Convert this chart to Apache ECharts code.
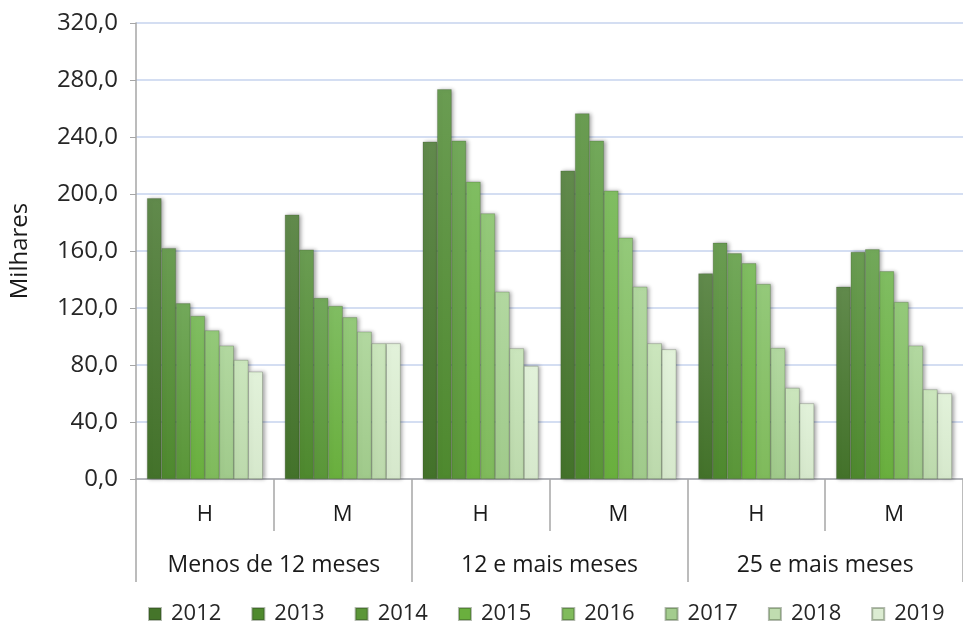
<!DOCTYPE html>
<html>
<head>
<meta charset="utf-8">
<script src="https://cdn.jsdelivr.net/npm/echarts@6/dist/echarts.min.js"></script>
<style>
html,body{margin:0;padding:0;background:#fff;}
#c{width:963px;height:623px;}
</style>
</head>
<body>
<div id="c"></div>
<script>
const subCategories = ['H', 'M', 'H', 'M', 'H', 'M'];
const groupCategories = ['Menos de 12 meses', '12 e mais meses', '25 e mais meses'];
const years = ['2012', '2013', '2014', '2015', '2016', '2017', '2018', '2019'];
const v2012 = [197.0, 185.5, 236.7, 216.4, 144.3, 134.9];
const v2013 = [162.0, 161.0, 273.5, 256.6, 165.8, 159.3];
const v2014 = [123.3, 127.0, 237.4, 237.4, 158.4, 161.2];
const v2015 = [114.4, 121.4, 208.6, 202.3, 151.4, 145.8];
const v2016 = [104.3, 113.5, 186.4, 169.3, 136.8, 124.2];
const v2017 = [93.6, 103.4, 131.4, 134.9, 91.9, 93.6];
const v2018 = [83.5, 95.2, 91.7, 95.2, 63.9, 62.9];
const v2019 = [75.3, 95.2, 79.3, 91.0, 53.1, 60.1];
const yTicks = [0, 40, 80, 120, 160, 200, 240, 280, 320];

const seriesValues = [v2012, v2013, v2014, v2015, v2016, v2017, v2018, v2019];
const topColors = ['#618a4c', '#6a9c52', '#72a85a', '#80bd62', '#94c97a', '#b2d8a0', '#cbe6bd', '#e2f2da'];
const bottomColors = ['#43722a', '#4e892e', '#5a9638', '#69af3d', '#7fba5b', '#a0ca8b', '#bcd9ac', '#d6e8cc'];
const legendColors = ['#45752a', '#4f8a2e', '#5b9638', '#6aaf3e', '#80bb5c', '#a3cc8e', '#c0dcb0', '#dcecd2'];

const font = 'Open Sans';
const chart = echarts.init(document.getElementById('c'));

const series = years.map((y, i) => ({
  name: y,
  type: 'bar',
  xAxisIndex: 0,
  data: seriesValues[i],
  barGap: '0%',
  barCategoryGap: '16%',
  itemStyle: {
    color: new echarts.graphic.LinearGradient(0, 0, 0, 1, [
      {offset: 0, color: topColors[i]},
      {offset: 1, color: bottomColors[i]}
    ]),
    borderColor: 'rgba(40,60,30,0.35)',
    borderWidth: 0.6,
    shadowColor: 'rgba(0,0,0,0.35)',
    shadowBlur: 4,
    shadowOffsetX: 2,
    shadowOffsetY: 0
  }
}));

chart.setOption({
  animation: false,
  backgroundColor: '#ffffff',
  grid: {left: 136, top: 23, width: 832, height: 456, containLabel: false},
  legend: {
    data: years.map((y, i) => ({name: y, itemStyle: {color: legendColors[i]}})),
    left: 148,
    top: 603,
    width: 815,
    padding: 0,
    itemWidth: 12,
    itemHeight: 12,
    itemGap: 30,
    icon: 'rect',
    textStyle: {fontFamily: font, fontSize: 22, color: '#262626', padding: [0, 0, 0, 5]}
  },
  xAxis: [
    {
      type: 'category',
      data: subCategories,
      position: 'bottom',
      axisLine: {show: true, lineStyle: {color: '#a6a6a6', width: 1.5}},
      axisTick: {show: true, interval: 0, length: 52, lineStyle: {color: '#a6a6a6', width: 1.5}},
      axisLabel: {interval: 0, margin: 25, fontFamily: font, fontSize: 22, color: '#1a1a1a'},
      splitLine: {show: false}
    },
    {
      type: 'category',
      data: groupCategories,
      position: 'bottom',
      gridIndex: 0,
      axisLine: {show: false},
      axisTick: {show: true, interval: 0, length: 103, lineStyle: {color: '#a6a6a6', width: 1.5}},
      axisLabel: {interval: 0, margin: 75, fontFamily: font, fontSize: 23, color: '#1a1a1a'},
      splitLine: {show: false}
    }
  ],
  yAxis: {
    type: 'value',
    min: yTicks[0],
    max: yTicks[yTicks.length - 1],
    interval: 40,
    name: 'Milhares',
    nameLocation: 'middle',
    nameGap: 104,
    nameRotate: 90,
    nameTextStyle: {fontFamily: font, fontSize: 24, color: '#1a1a1a'},
    axisLine: {show: true, lineStyle: {color: '#a6a6a6', width: 1.5}},
    axisTick: {show: true, length: 6, lineStyle: {color: '#a6a6a6'}},
    axisLabel: {
      margin: 18,
      fontFamily: font,
      fontSize: 24,
      color: '#262626',
      formatter: v => v.toFixed(1).replace('.', ',')
    },
    splitLine: {show: true, lineStyle: {color: '#c6d3ee', width: 1.5}}
  },
  series: series
});
</script>
</body>
</html>
